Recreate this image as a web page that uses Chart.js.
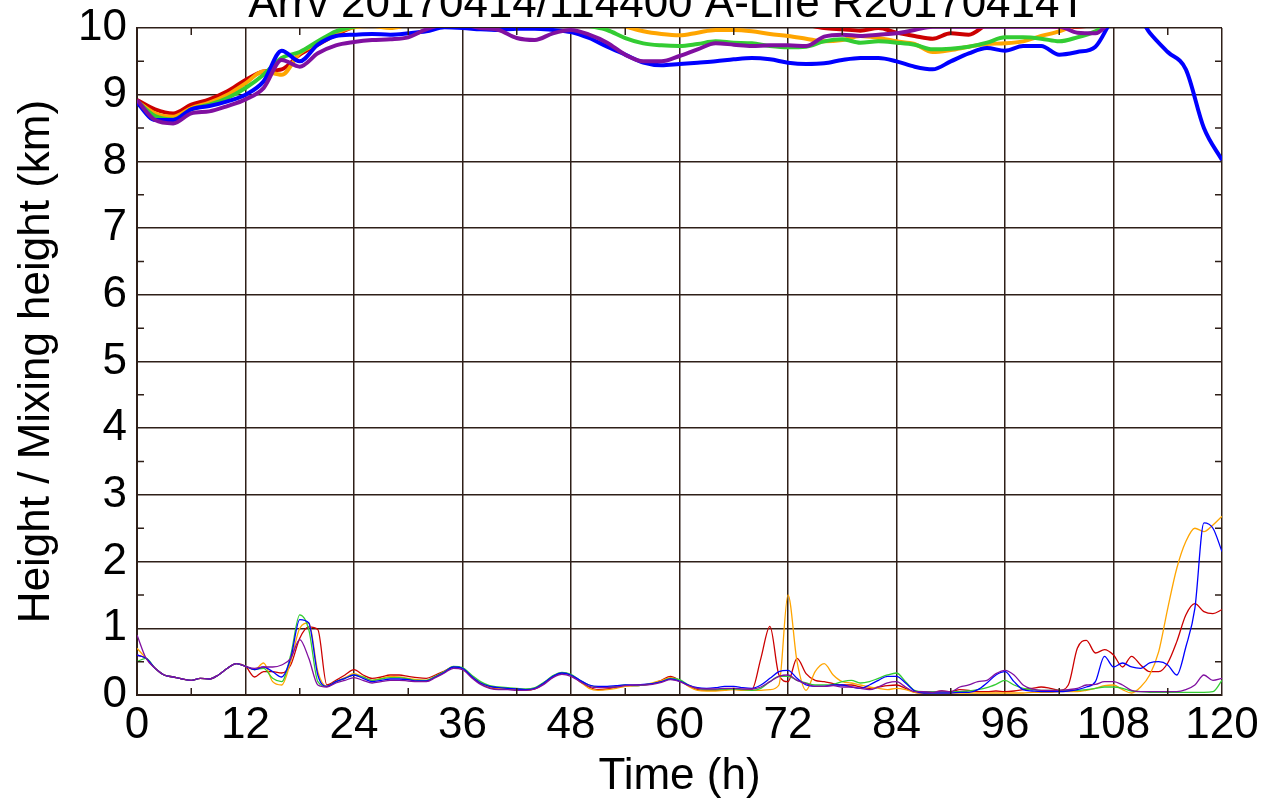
<!DOCTYPE html>
<html>
<head>
<meta charset="utf-8">
<script src="https://cdn.jsdelivr.net/npm/chart.js@4.4.1/dist/chart.umd.min.js"></script>
<style>
  html, body { margin: 0; padding: 0; background: #fff; }
  #wrap { width: 1277px; height: 803px; }
</style>
</head>
<body>
<div id="wrap"><canvas id="chart" width="1277" height="803"></canvas></div>
<script>
// Tempos (h): alturas de 2 em 2 h, alturas de mistura de 1 em 1 h
const hoursHeight = Array.from({ length: 61 }, (_, i) => i * 2);
const hoursMix = Array.from({ length: 121 }, (_, i) => i);
const minorHours = [6, 18, 30, 42, 54, 66, 78, 90, 102, 114];
const minorKm = [0.5, 1.5, 2.5, 3.5, 4.5, 5.5, 6.5, 7.5, 8.5, 9.5];

// Altura da trajetória (km), linhas grossas
const redHeight = [
  8.92, 8.78, 8.72, 8.85, 8.93, 9.05, 9.22, 9.35, 9.38, 9.6,
  9.75, 9.9, 10.02, 10.1, 10.1, 10.1, 10.1, 10.1, 10.1, 10.1,
  10.1, 10.1, 10.1, 10.1, 10.1, 10.1, 10.1, 10.1, 10.1, 10.1,
  10.1, 10.1, 10.1, 10.1, 10.1, 10.1, 10.1, 10.05, 10.0, 9.98,
  9.96, 10.0, 9.93, 9.88, 9.84, 9.92, 9.9, 10.05, 10.1, 10.1,
  10.05, 10.02, 10.02, 10.05, 10.1, 10.1, 10.1, 10.1, 10.1, 10.1,
  10.1
];
const orangeHeight = [
  8.9, 8.72, 8.67, 8.8, 8.88, 9.0, 9.17, 9.35, 9.3, 9.62,
  9.77, 9.93, 10.01, 10.03, 10.0, 10.05, 10.1, 10.1, 10.1, 10.1,
  10.1, 10.1, 10.1, 10.1, 10.1, 10.1, 10.08, 10.02, 9.95, 9.91,
  9.89, 9.93, 9.97, 9.97, 9.95, 9.91, 9.88, 9.84, 9.8, 9.82,
  9.88, 9.85, 9.8, 9.76, 9.64, 9.67, 9.72, 9.76, 9.77, 9.8,
  9.88, 9.95, 10.05, 10.1, 10.1, 10.1, 10.1, 10.1, 10.1, 10.1,
  10.1
];
const greenHeight = [
  8.9, 8.68, 8.63, 8.78, 8.85, 8.95, 9.1, 9.3, 9.55, 9.64,
  9.8, 9.95, 10.02, 10.05, 10.1, 10.1, 10.1, 10.1, 10.1, 10.1,
  10.1, 10.1, 10.1, 10.1, 10.1, 10.03, 9.97, 9.85, 9.77, 9.74,
  9.73, 9.76, 9.8, 9.78, 9.77, 9.73, 9.71, 9.72, 9.8, 9.83,
  9.78, 9.8, 9.78, 9.75, 9.68, 9.69, 9.72, 9.78, 9.86, 9.86,
  9.84, 9.8, 9.86, 9.95, 10.1, 10.1, 10.1, 10.1, 10.1, 10.1,
  10.1
];
const blueHeight = [
  8.88, 8.62, 8.62, 8.78, 8.83, 8.9, 9.0, 9.2, 9.66, 9.5,
  9.75, 9.88, 9.9, 9.91, 9.9, 9.92, 9.95, 10.01, 10.0, 9.98,
  9.97, 9.99, 9.99, 9.97, 9.94, 9.85, 9.72, 9.6, 9.48, 9.44,
  9.46, 9.48, 9.5, 9.53, 9.55, 9.53, 9.48, 9.46, 9.47, 9.52,
  9.55, 9.55, 9.5, 9.42, 9.38, 9.5, 9.62, 9.7, 9.66, 9.73,
  9.73, 9.6, 9.64, 9.72, 10.15, 10.3, 9.93, 9.64, 9.38, 8.5,
  8.02
];
const purpleHeight = [
  8.92, 8.62, 8.57, 8.72, 8.75, 8.83, 8.93, 9.1, 9.52, 9.42,
  9.62, 9.74, 9.79, 9.82, 9.83, 9.86, 9.98, 10.05, 10.05, 10.0,
  9.97, 9.85, 9.82, 9.92, 9.97, 9.9, 9.78, 9.6, 9.5, 9.5,
  9.58, 9.68, 9.77, 9.75, 9.73, 9.74, 9.74, 9.73, 9.87, 9.9,
  9.88, 9.9, 9.92, 9.97, 10.02, 10.02, 10.02, 10.02, 10.02, 10.02,
  10.02, 10.02, 9.93, 9.92, 10.1, 10.1, 10.1, 10.1, 10.1, 10.1,
  10.1
];

// Altura de mistura (km), linhas finas
const redMix = [
  0.6, 0.55, 0.4, 0.3, 0.27, 0.24, 0.22, 0.25, 0.24, 0.3,
  0.4, 0.47, 0.43, 0.27, 0.35, 0.35, 0.33, 0.45, 0.85, 1.02,
  0.98, 0.15, 0.22, 0.3, 0.38, 0.3, 0.25, 0.27, 0.3, 0.3,
  0.28, 0.26, 0.25, 0.3, 0.36, 0.42, 0.4, 0.27, 0.17, 0.11,
  0.09, 0.09, 0.08, 0.07, 0.09, 0.17, 0.27, 0.32, 0.3, 0.2,
  0.12, 0.08, 0.09, 0.12, 0.14, 0.14, 0.15, 0.17, 0.22, 0.28,
  0.22, 0.14, 0.08, 0.07, 0.07, 0.08, 0.1, 0.08, 0.08, 0.55,
  1.03, 0.3, 0.2, 0.55, 0.32, 0.22, 0.2, 0.17, 0.15, 0.15,
  0.12, 0.1, 0.12, 0.14, 0.15, 0.1, 0.04, 0.03, 0.04, 0.06,
  0.05, 0.08, 0.07, 0.05, 0.05, 0.06, 0.05, 0.06, 0.08, 0.1,
  0.12, 0.1, 0.07, 0.15, 0.7, 0.82, 0.63, 0.68, 0.6, 0.42,
  0.58, 0.45, 0.35, 0.35, 0.48, 0.8, 1.2, 1.37, 1.25, 1.22,
  1.28
];
const orangeMix = [
  0.7, 0.55, 0.4, 0.3, 0.27, 0.24, 0.22, 0.25, 0.24, 0.3,
  0.4, 0.47, 0.43, 0.38, 0.48, 0.2, 0.15, 0.5, 1.0, 1.08,
  0.35, 0.13, 0.2, 0.26, 0.32, 0.27, 0.22, 0.25, 0.28, 0.27,
  0.25, 0.23, 0.22, 0.28, 0.35, 0.42, 0.4, 0.28, 0.18, 0.12,
  0.1, 0.09, 0.08, 0.07, 0.1, 0.18, 0.28, 0.33, 0.3, 0.2,
  0.1, 0.07, 0.08, 0.1, 0.13, 0.14, 0.15, 0.18, 0.22, 0.26,
  0.22, 0.13, 0.07, 0.06, 0.06, 0.07, 0.08, 0.07, 0.07, 0.07,
  0.08, 0.15, 1.5, 0.5, 0.07, 0.35, 0.47, 0.3, 0.2, 0.18,
  0.15, 0.12, 0.1, 0.08, 0.1, 0.08, 0.04, 0.03, 0.03, 0.03,
  0.03, 0.03, 0.03, 0.03, 0.03, 0.03, 0.03, 0.03, 0.03, 0.04,
  0.04, 0.04, 0.05, 0.05, 0.05, 0.07, 0.1, 0.14, 0.15, 0.08,
  0.03, 0.12, 0.3, 0.65, 1.3, 1.9, 2.3, 2.5, 2.45, 2.55,
  2.68
];
const greenMix = [
  0.5, 0.55, 0.4, 0.3, 0.27, 0.24, 0.22, 0.25, 0.24, 0.3,
  0.4, 0.47, 0.43, 0.38, 0.4, 0.25, 0.2, 0.6, 1.2, 0.98,
  0.2, 0.13, 0.2, 0.25, 0.3, 0.27, 0.22, 0.24, 0.26, 0.26,
  0.24, 0.22, 0.22, 0.28, 0.35, 0.43, 0.41, 0.3, 0.2, 0.14,
  0.12, 0.11, 0.1, 0.09, 0.11, 0.19, 0.29, 0.34, 0.31, 0.22,
  0.15, 0.12, 0.12, 0.13, 0.15, 0.14, 0.15, 0.17, 0.2, 0.25,
  0.23, 0.15, 0.1, 0.08, 0.08, 0.09, 0.09, 0.08, 0.07, 0.1,
  0.2, 0.28, 0.28, 0.22, 0.18, 0.15, 0.15, 0.16, 0.2, 0.22,
  0.18, 0.2, 0.25, 0.3, 0.33, 0.2, 0.07, 0.05, 0.05, 0.05,
  0.05, 0.05, 0.06, 0.08, 0.11, 0.16, 0.22, 0.15, 0.1, 0.08,
  0.07, 0.07, 0.07, 0.07, 0.07, 0.08, 0.1, 0.12, 0.12, 0.1,
  0.06, 0.05, 0.04, 0.04, 0.04, 0.04, 0.04, 0.04, 0.04, 0.05,
  0.22
];
const blueMix = [
  0.6, 0.55, 0.4, 0.3, 0.27, 0.24, 0.22, 0.25, 0.24, 0.3,
  0.4, 0.47, 0.43, 0.38, 0.42, 0.35, 0.27, 0.55, 1.13, 1.08,
  0.3, 0.13, 0.2, 0.25, 0.3, 0.25, 0.2, 0.22, 0.24, 0.24,
  0.23, 0.21, 0.21, 0.27, 0.34, 0.42, 0.4, 0.28, 0.18, 0.13,
  0.11, 0.1, 0.09, 0.08, 0.1, 0.18, 0.28, 0.33, 0.3, 0.22,
  0.15, 0.13, 0.13, 0.14, 0.15, 0.15, 0.16, 0.17, 0.2, 0.24,
  0.21, 0.15, 0.11, 0.1, 0.11, 0.13, 0.13, 0.11, 0.1, 0.15,
  0.25, 0.35, 0.37, 0.25, 0.15, 0.13, 0.13, 0.15, 0.15, 0.12,
  0.1, 0.15, 0.22, 0.28, 0.28, 0.18, 0.06, 0.03, 0.03, 0.03,
  0.03, 0.04, 0.04, 0.08, 0.18, 0.3, 0.35, 0.2, 0.08, 0.06,
  0.05, 0.05, 0.05, 0.06, 0.08, 0.12, 0.2, 0.58, 0.42, 0.48,
  0.42, 0.4, 0.48, 0.5, 0.45, 0.3, 0.72, 1.3, 2.58, 2.5,
  2.15
];
const purpleMix = [
  0.9, 0.55, 0.4, 0.3, 0.27, 0.24, 0.22, 0.25, 0.24, 0.3,
  0.4, 0.47, 0.43, 0.4, 0.42, 0.42, 0.45, 0.55, 0.83, 0.55,
  0.15, 0.12, 0.18, 0.22, 0.26, 0.22, 0.18, 0.2, 0.22, 0.22,
  0.21, 0.2, 0.2, 0.26, 0.33, 0.4, 0.38, 0.26, 0.16, 0.1,
  0.08, 0.08, 0.07, 0.07, 0.09, 0.16, 0.26, 0.31, 0.28, 0.2,
  0.13, 0.11, 0.11, 0.12, 0.14, 0.15, 0.15, 0.16, 0.19, 0.23,
  0.2, 0.14, 0.1, 0.09, 0.09, 0.1, 0.1, 0.09, 0.09, 0.12,
  0.2, 0.28, 0.3, 0.22, 0.17, 0.13, 0.13, 0.14, 0.12, 0.12,
  0.1, 0.08, 0.12, 0.18, 0.2, 0.12, 0.05, 0.05, 0.04, 0.06,
  0.05, 0.12, 0.15, 0.2, 0.22, 0.32, 0.37, 0.3, 0.15, 0.09,
  0.07, 0.07, 0.07, 0.08, 0.1, 0.15, 0.16, 0.2, 0.2, 0.15,
  0.07, 0.05, 0.05, 0.05, 0.05, 0.05, 0.08, 0.15, 0.3, 0.22,
  0.25
];

const gridColor = '#2e1f18';
const fontFamily = "'Liberation Sans', Arial, sans-serif";

// Cores e ordem de desenho (ordem menor fica por cima)
const series = [
  { color: '#cc0000', height: redHeight, mix: redMix, order: 5 },
  { color: '#ffa500', height: orangeHeight, mix: orangeMix, order: 4 },
  { color: '#33cc33', height: greenHeight, mix: greenMix, order: 3 },
  { color: '#0000ff', height: blueHeight, mix: blueMix, order: 2 },
  { color: '#8010a0', height: purpleHeight, mix: purpleMix, order: 1 }
];

const datasets = [];
series.forEach(s => {
  datasets.push({
    data: hoursHeight.map((h, i) => ({ x: h, y: s.height[i] })),
    borderColor: s.color,
    borderWidth: 4,
    pointRadius: 0,
    cubicInterpolationMode: 'monotone',
    clip: 0,
    order: s.order
  });
  datasets.push({
    data: hoursMix.map((h, i) => ({ x: h, y: s.mix[i] })),
    borderColor: s.color,
    borderWidth: 1.3,
    pointRadius: 0,
    cubicInterpolationMode: 'monotone',
    clip: 0,
    order: s.order + 5
  });
});

// Marcas menores para dentro da área do gráfico
const minorTicks = {
  id: 'minorTicks',
  afterDatasetsDraw(chart) {
    const { ctx, chartArea: a, scales: { x, y } } = chart;
    ctx.save();
    ctx.strokeStyle = gridColor;
    ctx.lineWidth = 1.5;
    ctx.beginPath();
    minorHours.forEach(h => {
      const px = x.getPixelForValue(h);
      ctx.moveTo(px, a.top); ctx.lineTo(px, a.top + 7);
      ctx.moveTo(px, a.bottom); ctx.lineTo(px, a.bottom - 7);
    });
    minorKm.forEach(k => {
      const py = y.getPixelForValue(k);
      ctx.moveTo(a.left, py); ctx.lineTo(a.left + 7, py);
      ctx.moveTo(a.right, py); ctx.lineTo(a.right - 7, py);
    });
    ctx.stroke();
    ctx.restore();
  }
};

new Chart(document.getElementById('chart'), {
  type: 'line',
  data: { datasets: datasets },
  plugins: [minorTicks],
  options: {
    responsive: false,
    animation: false,
    layout: { padding: { left: 0, right: 55, top: 0, bottom: 0 } },
    plugins: {
      legend: { display: false },
      tooltip: { enabled: false },
      title: {
        display: true,
        text: 'Arrv 20170414/114400 A-Life R20170414T  ',
        color: '#000',
        fullSize: false,
        font: { family: fontFamily, size: 44, weight: 'normal', lineHeight: 1 },
        padding: { top: -17, bottom: 1 }
      }
    },
    scales: {
      x: {
        type: 'linear',
        min: 0,
        max: 120,
        ticks: {
          stepSize: 12,
          color: '#000',
          padding: 4,
          maxRotation: 0,
          font: { family: fontFamily, size: 44 }
        },
        grid: { color: gridColor, lineWidth: 1.5, drawTicks: false },
        border: { color: gridColor, width: 2 },
        title: {
          display: true,
          text: 'Time (h)',
          color: '#000',
          padding: { top: 0, bottom: 0 },
          font: { family: fontFamily, size: 44 }
        },
        afterFit: s => { s.height = 108; }
      },
      y: {
        min: 0,
        max: 10,
        ticks: {
          stepSize: 1,
          color: '#000',
          padding: 10,
          font: { family: fontFamily, size: 44 }
        },
        grid: { color: gridColor, lineWidth: 1.5, drawTicks: false },
        border: { color: gridColor, width: 2 },
        title: {
          display: true,
          text: 'Height / Mixing height (km)',
          color: '#000',
          padding: { top: 10, bottom: 0 },
          font: { family: fontFamily, size: 44 }
        },
        afterFit: s => { s.width = 137; s.paddingTop = 0; s.paddingBottom = 0; }
      }
    }
  }
});
</script>
</body>
</html>
